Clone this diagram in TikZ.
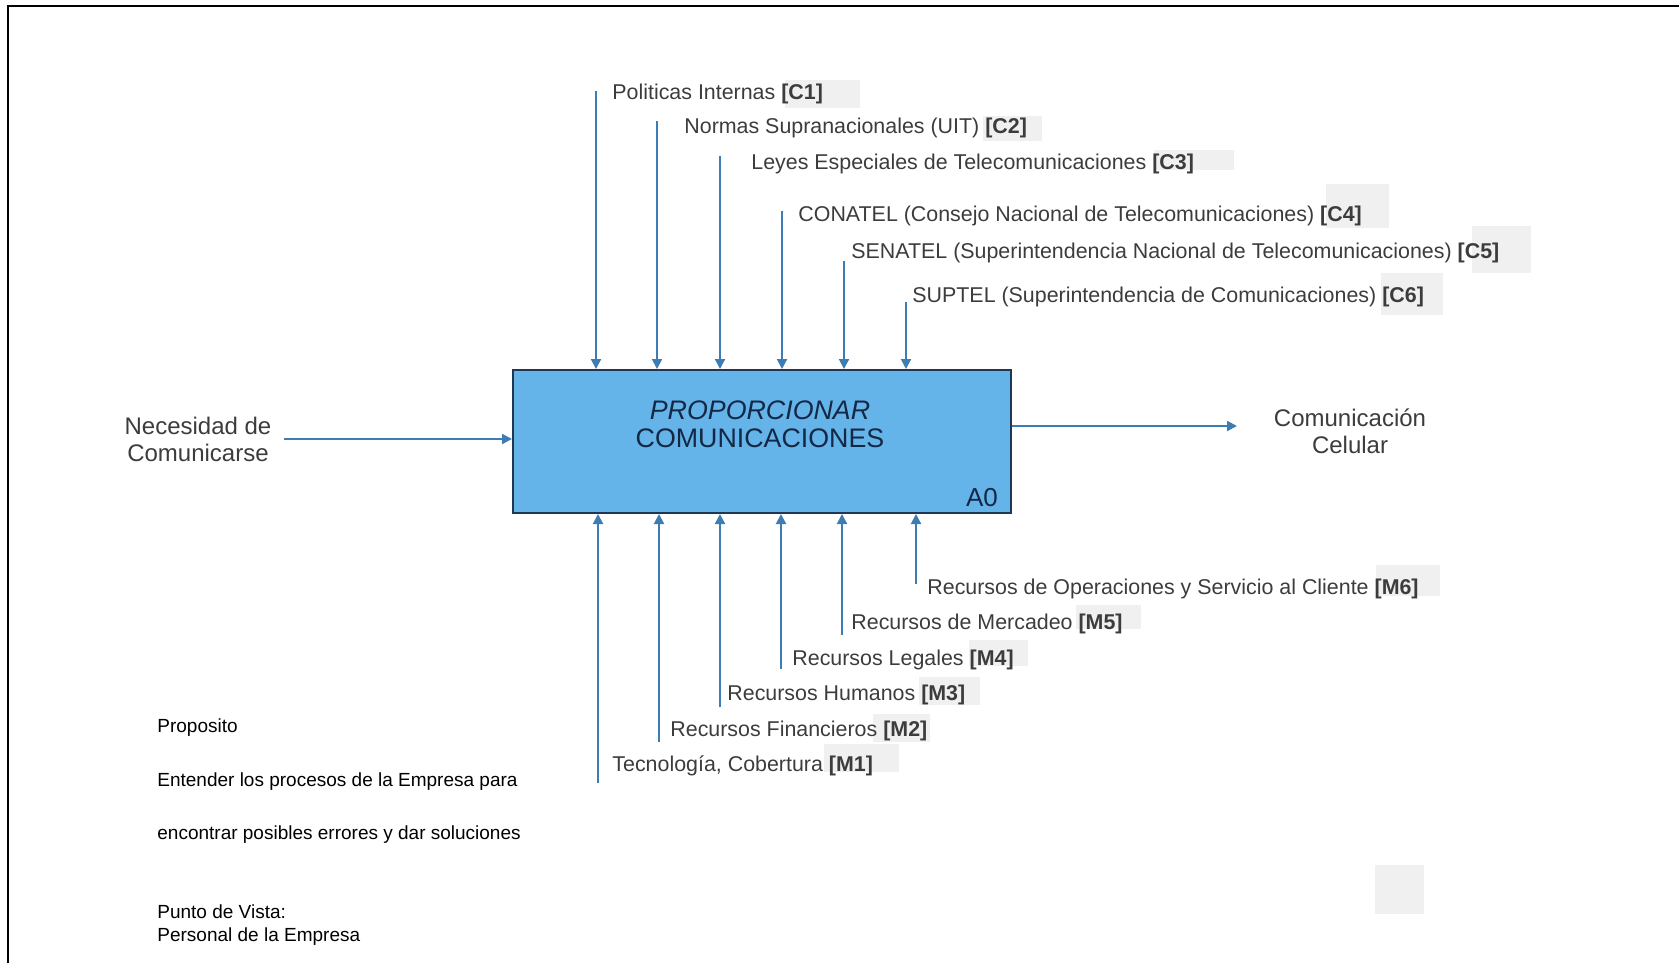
\documentclass[tikz,border=0pt]{standalone}
\usepackage{fontspec}
\setmainfont{Liberation Sans}
\usetikzlibrary{arrows.meta}
\definecolor{actfill}{RGB}{100,180,233}
\definecolor{actline}{RGB}{30,55,85}
\definecolor{acttext}{RGB}{20,40,70}
\definecolor{flowblue}{RGB}{60,125,180}
\definecolor{labelgray}{RGB}{60,60,60}
\tikzset{
  flow/.style={draw=flowblue, line width=1pt, -{Triangle[length=5pt,width=5pt]}},
  tag/.style={anchor=west, inner sep=0pt, text=labelgray, font=\fontsize{10.7}{12}\selectfont},
  endtext/.style={align=center, inner sep=0pt, text=labelgray, font=\fontsize{12}{13.5}\selectfont},
  notetext/.style={anchor=west, inner sep=0pt, align=left, font=\fontsize{9.5}{11.5}\selectfont},
  patch/.style={fill=black!6, draw=none},
  actbox/.style={draw=actline, fill=actfill, line width=1pt, minimum width=249pt, minimum height=71.5pt, inner sep=0pt},
}
\begin{document}
\begin{tikzpicture}[x=0.5pt,y=-0.5pt]
            \useasboundingbox (0,0) rectangle (1679,963);
            % Marco
            \draw[line width=1pt] (8,963) -- (8,6) -- (1679,6);

            % Parches grises
            \fill[patch] (785,80) rectangle (860,108);
            \fill[patch] (983,116) rectangle (1042,141);
            \fill[patch] (1154,150) rectangle (1234,170);
            \fill[patch] (1326,184) rectangle (1389,228);
            \fill[patch] (1472,226) rectangle (1531,273);
            \fill[patch] (1381,273) rectangle (1443,315);
            \fill[patch] (1376,565) rectangle (1440,596);
            \fill[patch] (1076,605) rectangle (1141,629);
            \fill[patch] (969,640) rectangle (1028,666);
            \fill[patch] (919,677) rectangle (980,705);
            \fill[patch] (873,714) rectangle (930,742);
            \fill[patch] (824,744) rectangle (899,772);
            \fill[patch] (1375,865) rectangle (1424,914);

            % Actividad principal
            \node[actbox] (act) at (762,441.5) {};
            \node[align=center, inner sep=0pt, text=acttext, font=\fontsize{13.4}{14.2}\selectfont] (actname) at (760,424) {\textit{PROPORCIONAR}\\COMUNICACIONES};
            \node[inner sep=0pt, text=acttext, font=\fontsize{13}{14}\selectfont] (actid) at (982,498) {A0};

            % Controles
            \node[tag] (c1) at (612,94) {Politicas Internas \textbf{[C1]}};
            \node[tag] (c2) at (684,128) {Normas Supranacionales (UIT) \textbf{[C2]}};
            \node[tag] (c3) at (751,164) {Leyes Especiales de Telecomunicaciones \textbf{[C3]}};
            \node[tag] (c4) at (798,216) {CONATEL (Consejo Nacional de Telecomunicaciones) \textbf{[C4]}};
            \node[tag] (c5) at (851,253) {SENATEL (Superintendencia Nacional de Telecomunicaciones) \textbf{[C5]}};
            \node[tag] (c6) at (912,297) {SUPTEL (Superintendencia de Comunicaciones) \textbf{[C6]}};
            \coordinate (c1top) at (596,91);
            \coordinate (c2top) at (657,121);
            \coordinate (c3top) at (720,156);
            \coordinate (c4top) at (782,211);
            \coordinate (c5top) at (844,261);
            \coordinate (c6top) at (906,302);
            \draw[flow] (c1top) -- (c1top |- act.north);
            \draw[flow] (c2top) -- (c2top |- act.north);
            \draw[flow] (c3top) -- (c3top |- act.north);
            \draw[flow] (c4top) -- (c4top |- act.north);
            \draw[flow] (c5top) -- (c5top |- act.north);
            \draw[flow] (c6top) -- (c6top |- act.north);

            % Mecanismos
            \node[tag] (m1) at (612,766) {Tecnología, Cobertura \textbf{[M1]}};
            \node[tag] (m2) at (670,731) {Recursos Financieros \textbf{[M2]}};
            \node[tag] (m3) at (727,695) {Recursos Humanos \textbf{[M3]}};
            \node[tag] (m4) at (792,660) {Recursos Legales \textbf{[M4]}};
            \node[tag] (m5) at (851,624) {Recursos de Mercadeo \textbf{[M5]}};
            \node[tag] (m6) at (927,589) {Recursos de Operaciones y Servicio al Cliente \textbf{[M6]}};
            \coordinate (m1bot) at (598,783);
            \coordinate (m2bot) at (659,742);
            \coordinate (m3bot) at (720,707);
            \coordinate (m4bot) at (781,669);
            \coordinate (m5bot) at (842,635);
            \coordinate (m6bot) at (916,584);
            \draw[flow] (m1bot) -- (m1bot |- act.south);
            \draw[flow] (m2bot) -- (m2bot |- act.south);
            \draw[flow] (m3bot) -- (m3bot |- act.south);
            \draw[flow] (m4bot) -- (m4bot |- act.south);
            \draw[flow] (m5bot) -- (m5bot |- act.south);
            \draw[flow] (m6bot) -- (m6bot |- act.south);

            % Entrada y salida
            \node[endtext] (input) at (198,439) {Necesidad de\\Comunicarse};
            \node[endtext] (output) at (1350,431) {Comunicación\\Celular};
            \coordinate (instart) at (284,439);
            \coordinate (outend) at (1237,426);
            \draw[flow] (instart) -- (instart -| act.west);
            \draw[flow] (outend -| act.east) -- (outend);

            % Notas
            \node[notetext] (purpose) at (157,728) {Proposito};
            \node[notetext] (goal1) at (157,782) {Entender los procesos de la Empresa para};
            \node[notetext] (goal2) at (157,835) {encontrar posibles errores y dar soluciones};
            \node[notetext] (view) at (157,925) {Punto de Vista:\\Personal de la Empresa};
        \end{tikzpicture}
\end{document}
